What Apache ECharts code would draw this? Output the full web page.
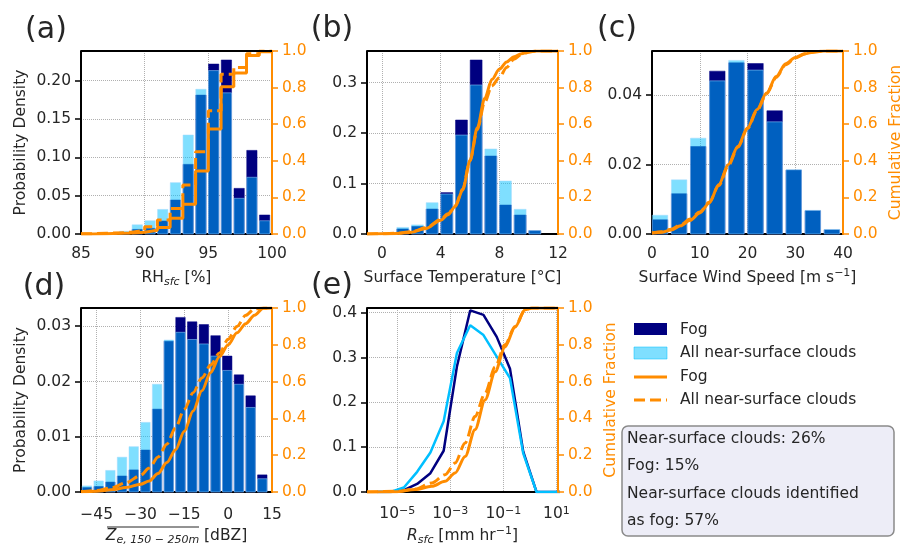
<!DOCTYPE html>
<html>
<head>
<meta charset="utf-8">
<script src="https://cdn.jsdelivr.net/npm/echarts@6/dist/echarts.min.js"></script>
<style>
  html, body { margin: 0; padding: 0; background: #fff; }
  #fog-chart { width: 901px; height: 546px; }
</style>
</head>
<body>
<div id="fog-chart"></div>
<script>
// (a) surface relative humidity, 1 % bins
const rhBins = [85, 86, 87, 88, 89, 90, 91, 92, 93, 94, 95, 96, 97, 98, 99];
const rhFog = [0, 0, 0, 0.001, 0.006, 0.0074, 0.017, 0.0443, 0.0908, 0.181, 0.2215, 0.2268, 0.0595, 0.109, 0.0248];
const rhClouds = [0, 0.0005, 0.001, 0.0035, 0.012, 0.0173, 0.032, 0.0669, 0.129, 0.1886, 0.213, 0.184, 0.0465, 0.0739, 0.0173];
const rhCdfX = [85, 86, 87, 88, 89, 90, 91, 92, 93, 94, 95, 96, 97, 98, 99, 100];
const rhCdfFog = [0, 0.002, 0.004, 0.006, 0.01, 0.02, 0.035, 0.086, 0.162, 0.344, 0.574, 0.805, 0.88, 0.975, 0.996, 1.0];
const rhCdfClouds = [0.002, 0.004, 0.006, 0.01, 0.02, 0.04, 0.076, 0.14, 0.268, 0.45, 0.674, 0.873, 0.91, 0.985, 1.0, 1.0];

// (b) surface temperature, 1 degree bins
const tBins = [1, 2, 3, 4, 5, 6, 7, 8, 9, 10];
const tFog = [0.010, 0.015, 0.0495, 0.082, 0.2258, 0.3447, 0.1545, 0.0574, 0.0376, 0.0065];
const tClouds = [0.013, 0.018, 0.062, 0.0792, 0.196, 0.2952, 0.1684, 0.105, 0.0489, 0.0068];
const tCdfX = [-1.02, 0, 1, 2, 3, 4, 4.5, 5, 5.5, 6, 6.5, 7, 7.5, 8, 8.5, 9, 9.5, 10, 10.5, 12];
const tCdfFog = [0, 0.001, 0.003, 0.01, 0.03, 0.075, 0.105, 0.15, 0.24, 0.4, 0.58, 0.74, 0.845, 0.9, 0.94, 0.968, 0.985, 0.996, 1.0, 1.0];
const tCdfClouds = [0, 0.001, 0.004, 0.012, 0.034, 0.08, 0.11, 0.155, 0.245, 0.4, 0.57, 0.72, 0.81, 0.855, 0.91, 0.955, 0.98, 0.993, 1.0, 1.0];

// (c) surface wind speed, 4 m/s bins
const wBins = [0, 4, 8, 12, 16, 20, 24, 28, 32, 36];
const wFog = [0.0041, 0.0116, 0.0252, 0.0469, 0.0493, 0.0491, 0.0355, 0.0184, 0.0067, 0.0012];
const wClouds = [0.0054, 0.0156, 0.0276, 0.0441, 0.0500, 0.0472, 0.0323, 0.0185, 0.0068, 0.0013];
const wCdfX = [0, 2, 4, 6, 8, 10, 12, 14, 16, 18, 20, 22, 24, 26, 28, 30, 32, 34, 36, 40];
const wCdfFog = [0.005, 0.01, 0.022, 0.045, 0.075, 0.115, 0.17, 0.27, 0.38, 0.48, 0.58, 0.68, 0.77, 0.86, 0.93, 0.965, 0.985, 0.995, 1.0, 1.0];
const wCdfClouds = [0.006, 0.012, 0.026, 0.05, 0.082, 0.12, 0.175, 0.265, 0.375, 0.475, 0.575, 0.675, 0.765, 0.855, 0.925, 0.962, 0.984, 0.995, 1.0, 1.0];

// (d) mean reflectivity 150-250 m, 4 dBZ bins
const zBins = [-50, -46, -42, -38, -34, -30, -26, -22, -18, -14, -10, -6, -2, 2, 6, 10];
const zFog = [0.0008, 0.001, 0.0018, 0.0029, 0.004, 0.0076, 0.015, 0.0273, 0.0316, 0.0308, 0.0303, 0.0283, 0.0246, 0.0212, 0.0174, 0.0031];
const zClouds = [0.0011, 0.002, 0.0039, 0.0063, 0.0082, 0.0126, 0.0195, 0.0275, 0.0289, 0.0276, 0.0268, 0.0246, 0.022, 0.0195, 0.0153, 0.0024];
const zCdfX = [-50.37, -45, -40, -35, -30, -27, -24, -21, -18, -15, -12, -9, -6, -3, 0, 3, 6, 9, 12, 15];
const zCdfFog = [0.001, 0.004, 0.012, 0.024, 0.042, 0.06, 0.1, 0.16, 0.23, 0.33, 0.44, 0.55, 0.65, 0.735, 0.8, 0.865, 0.915, 0.96, 0.998, 1.0];
const zCdfClouds = [0.002, 0.008, 0.022, 0.05, 0.09, 0.13, 0.19, 0.26, 0.35, 0.45, 0.54, 0.62, 0.69, 0.755, 0.83, 0.9, 0.96, 0.995, 1.0, 1.0];

// (e) surface rain rate, x = log10(mm/hr)
const rLog = [-5.75, -5.25, -4.75, -4.25, -3.75, -3.25, -2.75, -2.25, -1.75, -1.25, -0.75, -0.25, 0.25, 0.75, 1.25];
const rFog = [0, 0, 0.004, 0.018, 0.042, 0.092, 0.28, 0.405, 0.395, 0.346, 0.275, 0.09, 0, 0, 0];
const rClouds = [0, 0, 0.01, 0.045, 0.088, 0.158, 0.31, 0.372, 0.35, 0.302, 0.254, 0.086, 0, 0, 0];
const rCdfX = [-6.14, -5, -4.33, -3.7, -3.2, -2.82, -2.44, -2.07, -1.69, -1.31, -0.94, -0.56, -0.18, 0.07, 1.06];
const rCdfFog = [0, 0.002, 0.013, 0.031, 0.058, 0.103, 0.193, 0.338, 0.5, 0.653, 0.788, 0.896, 0.99, 1.0, 1.0];
const rCdfClouds = [0, 0.004, 0.016, 0.049, 0.094, 0.157, 0.266, 0.41, 0.537, 0.68, 0.8, 0.9, 0.99, 1.0, 1.0];

// tick labels
const rhTicks = [0, 0.05, 0.1, 0.15, 0.2];
const tTicks = [0, 0.1, 0.2, 0.3];
const wTicks = [0, 0.02, 0.04];
const zTicks = [0, 0.01, 0.02, 0.03];
const rTicks = [0, 0.1, 0.2, 0.3, 0.4];
const tXTicks = [0, 4, 8, 12];
const zXTicks = [-45, -30, -15, 0, 15];
const rXTicks = [-5, -3, -1, 1];

const boxLines = ['Near-surface clouds: 26%', 'Fog: 15%', 'Near-surface clouds identified', 'as fog: 57%'];

const FONT = 'DejaVu Sans';
const INK = '#262626';
const ORANGE = '#FF8C00';
const NAVY = '#000080';
const SKY = '#00BFFF';
const GRIDC = '#b0b0b0';
const FS = 15.5;

const gridPos = [
    {left: 81, top: 51, width: 191, height: 183},
    {left: 367, top: 51, width: 191, height: 183},
    {left: 652, top: 51, width: 191, height: 183},
    {left: 81, top: 308, width: 191, height: 184},
    {left: 367, top: 308, width: 191, height: 184}
];

const nameRich = {
    sub: {fontSize: 11, fontStyle: 'italic', fontFamily: FONT, color: INK, verticalAlign: 'bottom', lineHeight: 11},
    sup: {fontSize: 11, fontFamily: FONT, color: INK, verticalAlign: 'top', lineHeight: 11},
    it: {fontSize: FS, fontStyle: 'italic', fontFamily: FONT, color: INK, lineHeight: 20}
};

function xAx(k, o) {
    return {
        type: 'value', gridIndex: k, min: o.min, max: o.max, interval: o.interval,
        axisLine: {onZero: false, lineStyle: {color: '#000', width: 2}},
        axisTick: {show: false, customValues: o.ticks},
        axisLabel: {color: INK, fontSize: FS, fontFamily: FONT, margin: o.margin || 12, customValues: o.ticks,
            formatter: o.formatter, rich: o.rich},
        splitLine: {show: true, lineStyle: {color: GRIDC, type: 'dotted', width: 1}},
        name: o.name, nameLocation: 'middle', nameGap: 34,
        nameTextStyle: {color: INK, fontSize: FS, fontFamily: FONT, lineHeight: 20, rich: nameRich}
    };
}

function leftY(k, max, ticks, digits, name) {
    return {
        type: 'value', gridIndex: k, position: 'left', min: 0, max: max,
        axisLine: {show: true, onZero: false, lineStyle: {color: '#000', width: 2}},
        axisTick: {show: true, length: 6, lineStyle: {color: '#000', width: 1.5}, customValues: ticks},
        axisLabel: {color: INK, fontSize: FS, fontFamily: FONT, margin: 10, customValues: ticks,
            formatter: v => v.toFixed(digits)},
        splitLine: {show: true, lineStyle: {color: GRIDC, type: 'dotted', width: 1}},
        name: name || '', nameLocation: 'middle', nameRotate: 90, nameGap: 52,
        nameTextStyle: {color: INK, fontSize: FS, fontFamily: FONT}
    };
}

function rightY(k, name) {
    return {
        type: 'value', gridIndex: k, position: 'right', min: 0, max: 1, interval: 0.2, z: 5,
        axisLine: {show: true, onZero: false, lineStyle: {color: ORANGE, width: 2}},
        axisTick: {show: true, length: 6, lineStyle: {color: ORANGE, width: 1.5}},
        axisLabel: {color: ORANGE, fontSize: FS, fontFamily: FONT, margin: 10, formatter: v => v.toFixed(1)},
        splitLine: {show: false},
        name: name || '', nameLocation: 'middle', nameRotate: 90, nameGap: 45,
        nameTextStyle: {color: ORANGE, fontSize: FS, fontFamily: FONT}
    };
}

function barRender(w, style) {
    return function (params, api) {
        const x = api.value(0);
        const top = api.coord([x + w * 0.015, api.value(1)]);
        const bot = api.coord([x + w * 0.825, 0]);
        return {
            type: 'rect',
            shape: {x: top[0], y: top[1], width: bot[0] - top[0], height: bot[1] - top[1]},
            style: style
        };
    };
}

const series = [];

function addHist(k, bins, w, fog, clouds) {
    series.push({
        type: 'custom', xAxisIndex: k, yAxisIndex: 2 * k, z: 2,
        encode: {x: 0, y: 1},
        data: bins.map((b, i) => [b, fog[i]]),
        renderItem: barRender(w, {fill: NAVY, stroke: NAVY, lineWidth: 0.5})
    });
    series.push({
        type: 'custom', xAxisIndex: k, yAxisIndex: 2 * k, z: 3,
        encode: {x: 0, y: 1},
        data: bins.map((b, i) => [b, clouds[i]]),
        renderItem: barRender(w, {fill: SKY, opacity: 0.5, stroke: '#9fdcff', lineWidth: 1})
    });
}

function addCdf(k, xs, ys, dashed, step) {
    series.push({
        type: 'line', xAxisIndex: k, yAxisIndex: 2 * k + 1, z: 6,
        data: xs.map((x, i) => [x, ys[i]]),
        showSymbol: false, symbol: 'none',
        step: step ? 'end' : false,
        smooth: step ? false : 0.3, smoothMonotone: 'x',
        itemStyle: {color: ORANGE},
        lineStyle: {color: ORANGE, width: 3, type: dashed ? [11, 5] : 'solid'}
    });
}

function addPdfLine(k, xs, ys, color) {
    series.push({
        type: 'line', xAxisIndex: k, yAxisIndex: 2 * k, z: 3,
        data: xs.map((x, i) => [x, ys[i]]),
        showSymbol: false, symbol: 'none',
        itemStyle: {color: color},
        lineStyle: {color: color, width: 2.5}
    });
}

addHist(0, rhBins, 1, rhFog, rhClouds);
addCdf(0, rhCdfX, rhCdfFog, false, true);
addCdf(0, rhCdfX, rhCdfClouds, true, true);

addHist(1, tBins, 1, tFog, tClouds);
addCdf(1, tCdfX, tCdfFog, false);
addCdf(1, tCdfX, tCdfClouds, true);

addHist(2, wBins, 4, wFog, wClouds);
addCdf(2, wCdfX, wCdfFog, false);
addCdf(2, wCdfX, wCdfClouds, true);

addHist(3, zBins, 4, zFog, zClouds);
addCdf(3, zCdfX, zCdfFog, false);
addCdf(3, zCdfX, zCdfClouds, true);

addPdfLine(4, rLog, rFog, NAVY);
addPdfLine(4, rLog, rClouds, SKY);
addCdf(4, rCdfX, rCdfFog, false);
addCdf(4, rCdfX, rCdfClouds, true);

const xAxes = [
    xAx(0, {min: 85, max: 100, interval: 5, name: 'RH{sub|sfc} [%]'}),
    xAx(1, {min: -1.02, max: 12, ticks: tXTicks, name: 'Surface Temperature [°C]'}),
    xAx(2, {min: 0, max: 40, interval: 10, name: 'Surface Wind Speed [m s{sup|−1}]'}),
    xAx(3, {min: -50.37, max: 15, ticks: zXTicks, margin: 15,
        formatter: v => String(v).replace('-', '−'),
        name: '{it|Z}{sub|e, 150 − 250m} [dBZ]'}),
    xAx(4, {min: -6.14, max: 1.06, ticks: rXTicks, margin: 14,
        formatter: v => '10{sup|' + String(v).replace('-', '−') + '}',
        rich: {sup: {fontSize: 11, fontFamily: FONT, color: INK, verticalAlign: 'top', lineHeight: 11}},
        name: '{it|R}{sub|sfc} [mm hr{sup|−1}]'})
];

const yAxes = [
    leftY(0, 0.2385, rhTicks, 2, 'Probability Density'), rightY(0),
    leftY(1, 0.3625, tTicks, 1), rightY(1),
    leftY(2, 0.0527, wTicks, 2), rightY(2, 'Cumulative Fraction'),
    leftY(3, 0.0333, zTicks, 2, 'Probability Density'), rightY(3),
    leftY(4, 0.4104, rTicks, 1), rightY(4, 'Cumulative Fraction')
];

function label(txt, x, y) {
    return {type: 'text', x: x, y: y, z: 10,
        style: {text: txt, fontSize: 30, fontFamily: FONT, fill: INK, align: 'center', verticalAlign: 'middle'}};
}

function legText(txt, y) {
    return {type: 'text', x: 680, y: y, z: 10,
        style: {text: txt, fontSize: FS, fontFamily: FONT, fill: INK, verticalAlign: 'middle'}};
}

const graphics = [
    label('(a)', 46, 30), label('(b)', 332, 29), label('(c)', 617, 29),
    label('(d)', 44, 287), label('(e)', 332, 286),
    // overline of Z
    {type: 'line', z: 10, shape: {x1: 107, y1: 527, x2: 199, y2: 527}, style: {stroke: INK, lineWidth: 1}},
    // legend
    {type: 'rect', z: 10, shape: {x: 634, y: 323, width: 33, height: 12}, style: {fill: NAVY}},
    {type: 'rect', z: 10, shape: {x: 634, y: 347, width: 33, height: 12}, style: {fill: SKY, opacity: 0.5, stroke: SKY, lineWidth: 1}},
    {type: 'line', z: 10, shape: {x1: 634, y1: 377, x2: 667, y2: 377}, style: {stroke: ORANGE, lineWidth: 3}},
    {type: 'line', z: 10, shape: {x1: 634, y1: 400, x2: 667, y2: 400}, style: {stroke: ORANGE, lineWidth: 3, lineDash: [11, 5]}},
    legText('Fog', 330), legText('All near-surface clouds', 353),
    legText('Fog', 377), legText('All near-surface clouds', 400),
    // statistics box
    {type: 'rect', z: 10, shape: {x: 622, y: 426, width: 272, height: 110, r: 6},
        style: {fill: '#EDEDF7', stroke: '#8a8a8a', lineWidth: 1.5}}
];
// black frame (top spine) of each panel
gridPos.forEach(g => {
    graphics.push({type: 'line', z: 9, shape: {x1: g.left, y1: g.top, x2: g.left + g.width, y2: g.top},
        style: {stroke: '#000', lineWidth: 2}});
});
boxLines.forEach((t, i) => {
    graphics.push({type: 'text', x: 627, y: 439 + i * 27.3, z: 11,
        style: {text: t, fontSize: FS, fontFamily: FONT, fill: INK, verticalAlign: 'middle'}});
});

const option = {
    animation: false,
    backgroundColor: '#fff',
    textStyle: {fontFamily: FONT},
    grid: gridPos.map(g => Object.assign({
        containLabel: false, outerBoundsMode: 'none'
    }, g)),
    xAxis: xAxes,
    yAxis: yAxes,
    series: series,
    graphic: graphics
};

const chart = echarts.init(document.getElementById('fog-chart'));
chart.setOption(option);
</script>
</body>
</html>
